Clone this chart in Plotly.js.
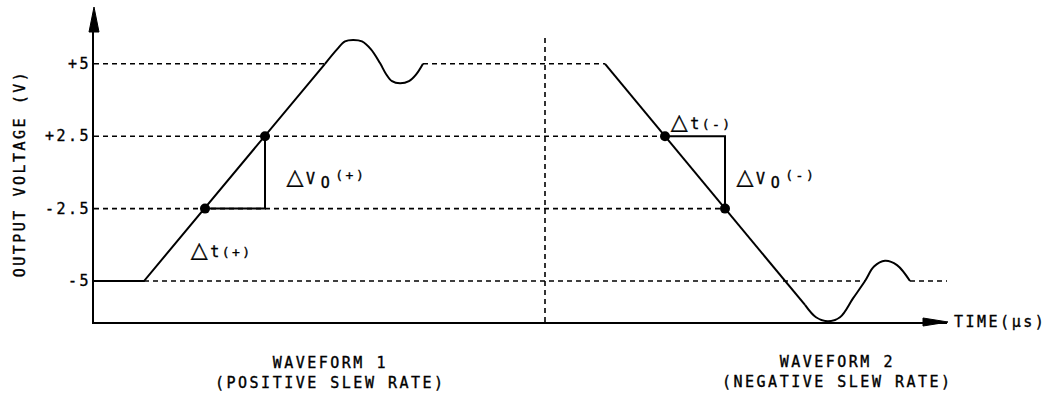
<!DOCTYPE html>
<html><head><meta charset="utf-8">
<script src="https://cdn.plot.ly/plotly-3.0.1.min.js"></script>
<style>
html,body{margin:0;padding:0;background:#fff;}
#chart text{letter-spacing:2.5px;stroke:#000;stroke-width:0.35px;}
</style>
</head><body>
<div id="chart" style="width:1052px;height:395px;"></div>
<script>
// Vertical positions are "level index": 0 = -5 V, 1 = -2.5 V, 2 = +2.5 V, 3 = +5 V
const levelPos = [0, 1, 2, 3];
const levelLabels = ['-5', '-2.5', '+2.5', '+5'];

const xRange = [0, 85.3];
const yRange = [-0.566, 3.536];

// Waveform 1 (positive slew)
const wave1RampT = [0, 5.0, 23.1];
const wave1RampL = [0, 0, 3];
const wave1RingT = [23.1, 24.3, 25.1, 25.9, 26.8, 27.7, 28.6, 29.2, 29.8, 30.6, 31.5, 32.2, 32.9];
const wave1RingL = [3.0, 3.2, 3.31, 3.33, 3.31, 3.2, 3.01, 2.86, 2.76, 2.73, 2.76, 2.85, 3.0];

// Waveform 2 (negative slew)
const wave2RampT = [51.1, 71.1];
const wave2RampL = [3, -0.33];
const wave2RingT = [71.1, 72.2, 73.4, 74.6, 75.9, 77.1, 78.0, 79.1, 80.3, 81.6];
const wave2RingL = [-0.33, -0.5, -0.555, -0.5, -0.24, 0, 0.2, 0.28, 0.22, 0];

// Dashed reference levels
const guideLevel = [3, 3, 2, 1, 0, 0];
const guideFrom = [0, 32.9, 0, 0, 5.0, 81.6];
const guideTo = [23.1, 51.1, 57.1, 63.1, 77.1, 85.3];

// Vertical divider between the two waveforms
const dividerT = [45.1, 45.1];
const dividerL = [yRange[0], 3.36];

// Measurement points (Δt / ΔVo)
const dotT = [11.1, 17.1, 57.1, 63.1];
const dotL = [1, 2, 2, 1];

const gx = [], gy = [];
for (let i = 0; i < guideLevel.length; i++) {
  gx.push(guideFrom[i], guideTo[i], null);
  gy.push(guideLevel[i], guideLevel[i], null);
}

const black = '#000';
const dashStyle = {color: black, width: 1.6, dash: '5px,4px'};
const solid = {color: black, width: 2};
const mono = 'DejaVu Sans Mono, Liberation Mono, monospace';

const traces = [
  {x: gx, y: gy, mode: 'lines', line: dashStyle},
  {x: dividerT, y: dividerL, mode: 'lines', line: dashStyle},
  {x: wave1RampT, y: wave1RampL, mode: 'lines', line: solid},
  {x: wave1RingT, y: wave1RingL, mode: 'lines', line: Object.assign({shape: 'spline', smoothing: 1}, solid)},
  {x: wave2RampT, y: wave2RampL, mode: 'lines', line: solid},
  {x: wave2RingT, y: wave2RingL, mode: 'lines', line: Object.assign({shape: 'spline', smoothing: 1}, solid)},
  {x: [dotT[0], dotT[1], dotT[1]], y: [dotL[0], dotL[0], dotL[1]], mode: 'lines', line: solid},
  {x: [dotT[2], dotT[3], dotT[3]], y: [dotL[2], dotL[2], dotL[3]], mode: 'lines', line: solid},
  {x: dotT, y: dotL, mode: 'markers', marker: {color: black, size: 10}, cliponaxis: false}
];

const tri = '<span style="font-family:DejaVu Sans;font-size:22px">△</span>';
function ann(text, x, y, size, extra) {
  return Object.assign({text: text, x: x, y: y, xref: 'x', yref: 'y', xanchor: 'left', yanchor: 'middle',
    showarrow: false, font: {family: mono, size: size, color: black}}, extra || {});
}

const annotations = [
  ann(tri + 'V', 19.3, 1.44, 15),
  ann('O', 22.6, 1.36, 15),
  ann('(+)', 24.3, 1.457, 13),
  ann(tri + 't<span style="font-size:13px">(+)</span>', 10.1, 0.44, 15),
  ann(tri + 't<span style="font-size:13px">(-)</span>', 58.1, 2.21, 15),
  ann(tri + 'V', 64.3, 1.44, 15),
  ann('O', 67.6, 1.36, 15),
  ann('(-)', 69.3, 1.457, 13),
  ann('TIME(µs)', xRange[1], yRange[0], 15, {xshift: 15}),
  ann('WAVEFORM 1<br>(POSITIVE SLEW RATE)', 23.6, 0, 15, {yref: 'paper', xanchor: 'center', yshift: -51}),
  ann('WAVEFORM 2<br>(NEGATIVE SLEW RATE)', 74.3, 0, 15, {yref: 'paper', xanchor: 'center', yshift: -50})
];

// arrowheads at the ends of the two axis lines (plot-area corners)
const shapes = [
  {type: 'path', xref: 'paper', yref: 'paper', xsizemode: 'pixel', ysizemode: 'pixel',
   xanchor: 0, yanchor: 1, path: 'M-5,-7 L0,18 L5,-7 Z',
   fillcolor: black, line: {color: black, width: 1}},
  {type: 'path', xref: 'paper', yref: 'paper', xsizemode: 'pixel', ysizemode: 'pixel',
   xanchor: 1, yanchor: 0, path: 'M-24,-4 L1,0 L-24,4 Z',
   fillcolor: black, line: {color: black, width: 1}}
];

const layout = {
  width: 1052, height: 395,
  margin: {l: 94, r: 105, t: 25, b: 73},
  paper_bgcolor: '#fff', plot_bgcolor: '#fff',
  showlegend: false,
  font: {family: mono, size: 15, color: black},
  xaxis: {range: xRange, showgrid: false, zeroline: false, showticklabels: false,
    showline: true, linewidth: 2, linecolor: black, ticks: ''},
  yaxis: {range: yRange, showgrid: false, zeroline: false, showline: true, linewidth: 2, linecolor: black,
    ticks: '', tickvals: levelPos, ticktext: levelLabels, ticklabelstandoff: -2,
    tickfont: {family: mono, size: 15, color: black},
    title: {text: 'OUTPUT VOLTAGE (V)', standoff: 26, font: {family: mono, size: 15, color: black}}},
  annotations: annotations,
  shapes: shapes
};

Plotly.newPlot('chart', traces, layout, {staticPlot: true, displayModeBar: false});
</script>
</body></html>
